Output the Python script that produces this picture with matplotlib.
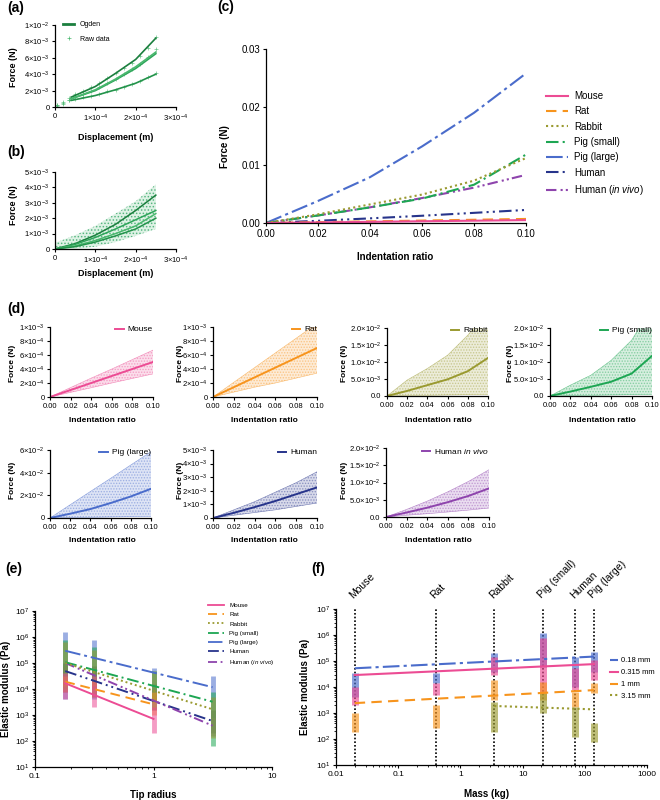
import numpy as np
import matplotlib
matplotlib.use("Agg")
import matplotlib.pyplot as plt
from matplotlib.lines import Line2D
from matplotlib.transforms import blended_transform_factory

plt.rcParams['font.family'] = ['Liberation Sans', 'DejaVu Sans']
plt.rcParams['mathtext.fontset'] = 'custom'
plt.rcParams['mathtext.rm'] = 'Liberation Sans'
plt.rcParams['mathtext.it'] = 'Liberation Sans:italic'
plt.rcParams['mathtext.bf'] = 'Liberation Sans:bold'
plt.rcParams['hatch.linewidth'] = 0.7

# ---------------- data ----------------
# (a) displacement in 1e-4 m, force in 1e-3 N
a_fit_x = [0.4, 1.0, 1.5, 2.0, 2.5]
a_fit1 = [1.2, 2.5, 4.1, 5.8, 8.4]
a_fit2 = [1.0, 2.0, 3.3, 4.7, 6.5]
a_fit3 = [1.0, 2.1, 3.4, 4.9, 6.7]
a_fit4 = [0.8, 1.4, 2.1, 2.9, 4.0]
a_raw_x = [0.05, 0.2, 0.35, 0.5, 0.7, 0.9, 1.1, 1.3, 1.5, 1.7, 1.9, 2.1, 2.3, 2.5]
a_raw1 = [0.3, 0.6, 1.1, 1.6, 2.0, 2.4, 2.9, 3.5, 4.1, 4.7, 5.4, 6.2, 7.2, 8.5]
a_raw2 = [0.2, 0.5, 0.9, 1.3, 1.6, 1.9, 2.4, 2.9, 3.4, 4.0, 4.6, 5.3, 6.1, 7.1]
a_raw3 = [0.1, 0.4, 0.8, 1.0, 1.2, 1.4, 1.6, 1.9, 2.1, 2.4, 2.8, 3.2, 3.6, 4.1]

# (b) displacement in 1e-4 m, force in 1e-3 N
b_x = [0.0, 0.5, 1.0, 1.5, 2.0, 2.5]
b_fit1 = [0.0, 0.35, 0.9, 1.6, 2.5, 3.5]
b_fit2 = [0.0, 0.3, 0.75, 1.3, 1.9, 2.5]
b_fit3 = [0.0, 0.2, 0.55, 1.0, 1.5, 2.3]
b_fit4 = [0.0, 0.15, 0.45, 0.85, 1.3, 2.0]
b_cloud_hi = [0.4, 0.9, 1.5, 2.3, 3.1, 4.2]
b_cloud_lo = [0.0, 0.0, 0.15, 0.45, 0.85, 1.3]

# (c)/(d) force (N) vs indentation ratio
ratio = [0.0, 0.02, 0.04, 0.06, 0.08, 0.10]
species = ['Mouse', 'Rat', 'Rabbit', 'Pig (small)', 'Pig (large)', 'Human', 'Human (in vivo)']
mouse_f = [0, 1.0e-4, 2.0e-4, 3.0e-4, 4.0e-4, 5.0e-4]
mouse_hi = [0, 1.35e-4, 2.7e-4, 4.0e-4, 5.35e-4, 6.7e-4]
mouse_lo = [0, 0.66e-4, 1.32e-4, 2.0e-4, 2.65e-4, 3.3e-4]
rat_f = [0, 1.4e-4, 2.8e-4, 4.2e-4, 5.6e-4, 7.0e-4]
rat_hi = [0, 2.1e-4, 4.2e-4, 6.3e-4, 8.4e-4, 10.5e-4]
rat_lo = [0, 0.7e-4, 1.4e-4, 2.0e-4, 2.7e-4, 3.4e-4]
rabbit_f = [0, 1.5e-3, 3.2e-3, 4.9e-3, 7.3e-3, 11.2e-3]
rabbit_hi = [0, 4.7e-3, 8.1e-3, 12.0e-3, 17.9e-3, 25.0e-3]
rabbit_lo = [0, 0.1e-3, 0.2e-3, 0.3e-3, 0.4e-3, 0.5e-3]
pigs_f = [0, 1.3e-3, 2.7e-3, 4.2e-3, 6.6e-3, 11.8e-3]
pigs_hi = [0, 3.2e-3, 6.1e-3, 10.5e-3, 16.4e-3, 26.0e-3]
pigs_lo = [0, 0.1e-3, 0.2e-3, 0.3e-3, 0.4e-3, 0.5e-3]
pigl_f = [0, 3.8e-3, 7.9e-3, 13.2e-3, 19.0e-3, 25.8e-3]
pigl_hi = [0, 11.7e-3, 23.4e-3, 35.0e-3, 46.8e-3, 58.5e-3]
pigl_lo = [0, 0.3e-3, 0.6e-3, 0.9e-3, 1.2e-3, 1.5e-3]
human_f = [0, 0.38e-3, 0.8e-3, 1.25e-3, 1.75e-3, 2.25e-3]
human_hi = [0, 0.6e-3, 1.2e-3, 1.9e-3, 2.6e-3, 3.4e-3]
human_lo = [0, 0.2e-3, 0.4e-3, 0.6e-3, 0.85e-3, 1.1e-3]
vivo_f = [0, 1.3e-3, 2.7e-3, 4.3e-3, 6.1e-3, 8.3e-3]
vivo_hi = [0, 2.2e-3, 4.6e-3, 7.3e-3, 10.3e-3, 13.7e-3]
vivo_lo = [0, 0.5e-3, 0.95e-3, 1.45e-3, 2.0e-3, 2.6e-3]

# (e) elastic modulus vs tip radius, log10(Pa)
tip = [0.18, 0.315, 1.0, 3.15]
e_line_lo = [4.22, 4.28, 5.00, 5.03, 5.47, 4.69, 5.00]   # at r = 0.18
e_line_hi = [2.85, 3.41, 3.22, 3.51, 4.07, 2.77, 2.59]   # at last radius
e_min = [[3.6, 3.3, 2.3], [3.9, 3.7, 3.0], [4.1, 4.1, 3.5, 2.1], [4.0, 4.2, 3.5, 1.8],
         [3.6, 3.6, 4.1, 2.9], [3.9, 3.7, 3.2, 2.3], [4.2, 4.0, 3.2, 2.2]]
e_max = [[4.6, 4.5, 3.3], [4.5, 4.3, 3.9], [5.8, 5.5, 4.7, 3.7], [5.9, 5.6, 4.7, 3.9],
         [6.2, 5.9, 4.8, 4.5], [5.0, 4.9, 4.2, 3.2], [4.9, 4.7, 4.0, 2.9]]

# (f) elastic modulus vs mass, log10(Pa)
mass = [0.02, 0.4, 3.5, 21, 70, 140]
f_names = ['Mouse', 'Rat', 'Rabbit', 'Pig (small)', 'Human', 'Pig (large)']
tips_f = ['0.18 mm', '0.315 mm', '1 mm', '3.15 mm']
f_min = [[3.63, 4.15, 4.58, 4.77, 4.00, 4.58],
         [3.31, 3.69, 4.46, 3.77, 3.88, 4.27],
         [2.28, 2.42, 3.50, 3.50, 3.23, 3.77],
         [None, None, 2.28, 3.00, 2.08, 1.88]]
f_max = [[4.53, 4.53, 5.30, 6.08, 5.15, 5.35],
         [4.01, 4.15, 5.17, 5.90, 4.73, 5.04],
         [3.00, 3.31, 4.27, 4.20, 3.81, 4.15],
         [None, None, 3.43, 3.77, 3.23, 2.60]]
f_line_start = [4.72, 4.46, 3.38, 3.27]
f_line_end = [5.17, 4.88, 3.88, 3.14]

# ---------------- styles ----------------
colors = ['#EC4C94', '#F7941D', '#9A9A30', '#1DA653', '#4A6CCB', '#27348B', '#8E44AD']
styles = ['-', (0, (5, 3)), (0, (1, 1.5)), (0, (6, 2, 1, 2)), (0, (8, 2, 1.5, 2)),
          (0, (6, 2, 1, 2, 1, 2)), (0, (5, 2, 1, 1.5, 1, 1.5))]
greens = ['#1B7F3E', '#2EA55A', '#49B86E', '#23934B']

W, H = 660, 800
fig = plt.figure(figsize=(6.6, 8.0), dpi=100)


def box(l, t, r, b):
    return [l / W, 1 - b / H, (r - l) / W, (b - t) / H]


def style(ax, size=5.5):
    ax.spines['top'].set_visible(False)
    ax.spines['right'].set_visible(False)
    ax.spines['left'].set_linewidth(0.9)
    ax.spines['bottom'].set_linewidth(0.9)
    ax.tick_params(direction='out', length=2.5, width=0.8, labelsize=size, pad=1.5)
    ax.tick_params(which='minor', length=1.5, width=0.6)


def txt(x, y, s, size=6.5, rot=0, weight='bold'):
    fig.text(x / W, 1 - y / H, s, fontsize=size, fontweight=weight, rotation=rot,
             ha='center', va='center')


def sci(m, e):
    return m + r'×10$^{' + str(e) + '}$'


# panel letters
for x, y, s in [(16, 8, '(a)'), (16, 152, '(b)'), (226, 7, '(c)'),
                (16, 309, '(d)'), (14, 569, '(e)'), (318, 569, '(f)')]:
    txt(x, y, s, size=10)

# ---------------- (a) ----------------
ax = fig.add_axes(box(55, 25, 176, 107))
style(ax, 5.5)
for ys in [a_raw1, a_raw2, a_raw3]:
    ax.plot(np.array(a_raw_x) * 1e-4, np.array(ys) * 1e-3, '+', ms=2.5, mew=0.5, color=greens[2], alpha=0.8)
for ys, c in zip([a_fit1, a_fit2, a_fit3, a_fit4], [greens[0], greens[1], greens[2], greens[3]]):
    ax.plot(np.array(a_fit_x) * 1e-4, np.array(ys) * 1e-3, color=c, lw=1.2)
ax.set_xlim(0, 3e-4)
ax.set_ylim(0, 1e-2)
ax.set_xticks([0, 1e-4, 2e-4, 3e-4])
ax.set_xticklabels(['0', sci('1', -4), sci('2', -4), sci('3', -4)])
ax.set_yticks([0, 2e-3, 4e-3, 6e-3, 8e-3, 1e-2])
ax.set_yticklabels(['0', sci('2', -3), sci('4', -3), sci('6', -3), sci('8', -3), sci('1', -2)])
hl = [Line2D([], [], color=greens[0], lw=2), Line2D([], [], ls='', marker='+', ms=2.5, mew=0.5, color=greens[2])]
fig.legend(hl, ['Ogden', 'Raw data'], loc='upper left', bbox_to_anchor=(63 / W, 1 - 21 / H),
           frameon=False, fontsize=5, handlelength=1.6, labelspacing=1.1, borderpad=0, borderaxespad=0)
txt(116, 138, 'Displacement (m)')
txt(14, 67, 'Force (N)', rot=90)

# ---------------- (b) ----------------
ax = fig.add_axes(box(55, 172, 176, 249))
style(ax, 5.5)
bx = np.array(b_x) * 1e-4
ax.fill_between(bx, np.array(b_cloud_lo) * 1e-3, np.array(b_cloud_hi) * 1e-3,
                facecolor=(0.36, 0.75, 0.5, 0.2), edgecolor=(0.2, 0.65, 0.4, 0.75),
                hatch='.....', linewidth=0)
for ys, c in zip([b_fit1, b_fit2, b_fit3, b_fit4], greens):
    ax.plot(bx, np.array(ys) * 1e-3, color=c, lw=1.1)
ax.set_xlim(0, 3e-4)
ax.set_ylim(0, 5e-3)
ax.set_xticks([0, 1e-4, 2e-4, 3e-4])
ax.set_xticklabels(['0', sci('1', -4), sci('2', -4), sci('3', -4)])
ax.set_yticks([0, 1e-3, 2e-3, 3e-3, 4e-3, 5e-3])
ax.set_yticklabels(['0'] + [sci(str(i), -3) for i in range(1, 6)])
txt(116, 274, 'Displacement (m)')
txt(14, 205, 'Force (N)', rot=90)

# ---------------- (c) ----------------
means = [mouse_f, rat_f, rabbit_f, pigs_f, pigl_f, human_f, vivo_f]
highs = [mouse_hi, rat_hi, rabbit_hi, pigs_hi, pigl_hi, human_hi, vivo_hi]
lows = [mouse_lo, rat_lo, rabbit_lo, pigs_lo, pigl_lo, human_lo, vivo_lo]
labels_c = ['Mouse', 'Rat', 'Rabbit', 'Pig (small)', 'Pig (large)', 'Human', r'Human ($\mathit{in\ vivo}$)']

ax = fig.add_axes(box(266, 49, 526, 223))
style(ax, 7)
for i in [6, 5, 4, 3, 2, 1, 0]:
    ax.plot(ratio, means[i], color=colors[i], ls=styles[i], lw=1.5, label=labels_c[i])
lines = [ax.get_lines()[6 - i] for i in range(7)]
ax.set_xlim(0, 0.1)
ax.set_ylim(0, 0.03)
ax.set_xticks([0, 0.02, 0.04, 0.06, 0.08, 0.10])
ax.set_xticklabels(['%.2f' % v for v in [0, 0.02, 0.04, 0.06, 0.08, 0.10]])
ax.set_yticks([0, 0.01, 0.02, 0.03])
ax.set_yticklabels(['0.00', '0.01', '0.02', '0.03'])
fig.legend(lines, labels_c, loc='upper left', bbox_to_anchor=(546 / W, 1 - 91 / H),
           frameon=False, fontsize=7, handlelength=2.3, labelspacing=0.55, borderpad=0,
           borderaxespad=0, handletextpad=0.6)
txt(395, 257, 'Indentation ratio', size=7)
txt(225, 147, 'Force (N)', size=7, rot=90)

# ---------------- (d) ----------------
d_boxes = [(50, 327, 153, 397), (213, 327, 317, 397), (387, 328, 488, 396), (550, 328, 652, 396),
           (50, 450, 151, 518), (213, 450, 317, 518), (386, 448, 489, 517)]
d_ylim = [1e-3, 1e-3, 2e-2, 2e-2, 6e-2, 5e-3, 2e-2]
small_t = [0, 2e-4, 4e-4, 6e-4, 8e-4, 1e-3]
small_l = ['0', sci('2', -4), sci('4', -4), sci('6', -4), sci('8', -4), sci('1', -3)]
mid_t = [0, 5e-3, 1e-2, 1.5e-2, 2e-2]
mid_l = ['0.0', sci('5.0', -3), sci('1.0', -2), sci('1.5', -2), sci('2.0', -2)]
d_ticks = [(small_t, small_l), (small_t, small_l), (mid_t, mid_l), (mid_t, mid_l),
           ([0, 2e-2, 4e-2, 6e-2], ['0', sci('2', -2), sci('4', -2), sci('6', -2)]),
           ([0, 1e-3, 2e-3, 3e-3, 4e-3, 5e-3], ['0'] + [sci(str(i), -3) for i in range(1, 6)]),
           (mid_t, mid_l)]
d_labels = ['Mouse', 'Rat', 'Rabbit', 'Pig (small)', 'Pig (large)', 'Human', r'Human $\mathit{in\ vivo}$']
d_xlab = [(102, 420), (264, 420), (438, 420), (602, 420), (102, 541), (264, 541), (438, 541)]
d_ylab = [(13, 363), (180, 363), (345, 363), (510, 363), (13, 480), (180, 480), (345, 480)]

for i in range(7):
    ax = fig.add_axes(box(*d_boxes[i]))
    style(ax, 5.5)
    ax.fill_between(ratio, lows[i], highs[i], facecolor=matplotlib.colors.to_rgba(colors[i], 0.18),
                    edgecolor=matplotlib.colors.to_rgba(colors[i], 0.4), hatch='......', linewidth=0)
    ax.plot(ratio, highs[i], color=colors[i], lw=0.4, alpha=0.6)
    ax.plot(ratio, lows[i], color=colors[i], lw=0.4, alpha=0.6)
    ax.plot(ratio, means[i], color=colors[i], lw=1.4, label=d_labels[i])
    ax.set_xlim(0, 0.1)
    ax.set_ylim(0, d_ylim[i])
    ax.set_xticks([0, 0.02, 0.04, 0.06, 0.08, 0.10])
    ax.set_xticklabels(['%.2f' % v for v in [0, 0.02, 0.04, 0.06, 0.08, 0.10]])
    ax.set_yticks(d_ticks[i][0])
    ax.set_yticklabels(d_ticks[i][1])
    ax.legend(loc='upper right', bbox_to_anchor=(1.0, 1.02), frameon=False, fontsize=6,
              handlelength=1.0, handletextpad=0.5, borderpad=0, borderaxespad=0)
    txt(d_xlab[i][0], d_xlab[i][1], 'Indentation ratio', size=6)
    txt(d_ylab[i][0], d_ylab[i][1], 'Force (N)', size=6, rot=90)

# ---------------- (e) ----------------
ax = fig.add_axes(box(35, 611, 272, 767))
style(ax, 6)
ax.set_xscale('log')
ax.set_yscale('log')
order = [4, 5, 6, 3, 2, 1, 0]
for i in order:
    n = len(e_min[i])
    ax.vlines(tip[:n], 10 ** np.array(e_min[i]), 10 ** np.array(e_max[i]),
              color=colors[i], lw=3.5, alpha=0.55)
for i in order:
    n = len(e_min[i])
    ax.plot([tip[0], tip[n - 1]], [10 ** e_line_lo[i], 10 ** e_line_hi[i]],
            color=colors[i], ls=styles[i], lw=1.4)
ax.set_xlim(0.1, 10)
ax.set_ylim(1e1, 1e7)
ax.set_xticks([0.1, 1, 10])
ax.set_xticklabels(['0.1', '1', '10'])
eh = [Line2D([], [], color=colors[i], ls=styles[i], lw=1.3) for i in range(7)]
fig.legend(eh, labels_c, loc='upper left', bbox_to_anchor=(208 / W, 1 - 603 / H), frameon=False,
           fontsize=4.5, handlelength=2.6, labelspacing=0.6, borderpad=0, borderaxespad=0,
           handletextpad=0.8)
txt(153, 795, 'Tip radius', size=7)
txt(6, 689, 'Elastic modulus (Pa)', size=7, rot=90)

# ---------------- (f) ----------------
ax = fig.add_axes(box(336, 609, 647, 765))
style(ax, 6)
ax.set_xscale('log')
ax.set_yscale('log')
f_cols = [colors[4], colors[0], colors[1], colors[2]]
f_styles = [styles[4], styles[0], styles[1], styles[2]]
trans = blended_transform_factory(ax.transData, ax.transAxes)
for m, name in zip(mass, f_names):
    ax.axvline(m, color='black', ls=(0, (1, 1.2)), lw=1.2, zorder=1)
    ax.text(m, 1.055, name, transform=trans, rotation=45, ha='left', va='bottom',
            rotation_mode='anchor', fontsize=7.5)
for k in range(4):
    xs = [m for m, v in zip(mass, f_min[k]) if v is not None]
    lo = [10 ** v for v in f_min[k] if v is not None]
    hi = [10 ** v for v in f_max[k] if v is not None]
    ax.vlines(xs, lo, hi, color=f_cols[k], lw=5, alpha=0.65, zorder=2)
fh = []
for k in range(4):
    x0 = mass[0] if k < 3 else mass[2]
    l, = ax.plot([x0, mass[-1]], [10 ** f_line_start[k], 10 ** f_line_end[k]],
                 color=f_cols[k], ls=f_styles[k], lw=1.5, zorder=3)
    fh.append(l)
ax.set_xlim(0.01, 1000)
ax.set_ylim(1e1, 1e7)
ax.set_xticks([0.01, 0.1, 1, 10, 100, 1000])
ax.set_xticklabels(['0.01', '0.1', '1', '10', '100', '1000'])
fig.legend(fh, tips_f, loc='upper left', bbox_to_anchor=(610 / W, 1 - 657 / H), frameon=False,
           fontsize=5.5, handlelength=1.1, labelspacing=0.6, borderpad=0, borderaxespad=0,
           handletextpad=0.4)
txt(487, 794, 'Mass (kg)', size=7)
txt(305, 687, 'Elastic modulus (Pa)', size=7, rot=90)

fig.savefig('out.png', dpi=100)
